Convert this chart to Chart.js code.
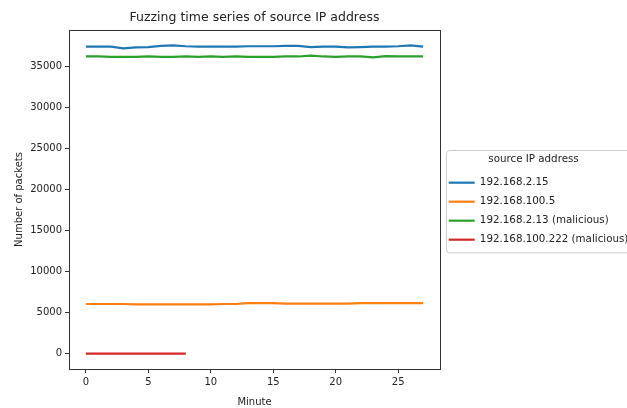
<!DOCTYPE html>
<html>
<head>
<meta charset="utf-8">
<script src="https://cdn.jsdelivr.net/npm/chart.js@4/dist/chart.umd.min.js"></script>
<style>
  html, body { margin: 0; padding: 0; background: #fff; overflow: hidden; }
  #wrap { width: 627px; height: 408px; position: relative; }
</style>
</head>
<body>
<div id="wrap"><canvas id="myChart"></canvas></div>
<script>
// data
const minutes = [0, 1, 2, 3, 4, 5, 6, 7, 8, 9, 10, 11, 12, 13, 14, 15, 16, 17, 18, 19, 20, 21, 22, 23, 24, 25, 26, 27];
const ipLabels = ['192.168.2.15', '192.168.100.5', '192.168.2.13 (malicious)', '192.168.100.222 (malicious)'];
const ip_2_15 = [37450, 37450, 37450, 37250, 37350, 37400, 37550, 37600, 37500, 37450, 37450, 37450, 37450, 37500,
                 37500, 37500, 37550, 37550, 37400, 37450, 37450, 37350, 37400, 37450, 37450, 37500, 37600, 37450];
const ip_100_5 = [6050, 6050, 6050, 6050, 6000, 6000, 6000, 6000, 6000, 6000, 6000, 6050, 6050, 6150,
                  6150, 6150, 6100, 6100, 6100, 6100, 6100, 6100, 6150, 6150, 6150, 6150, 6150, 6150];
const ip_2_13 = [36250, 36250, 36200, 36200, 36200, 36250, 36200, 36200, 36250, 36200, 36250, 36200, 36250, 36200,
                 36200, 36200, 36250, 36250, 36350, 36250, 36200, 36250, 36250, 36150, 36300, 36250, 36250, 36250];
const ip_100_222 = [0, 0, 0, 0, 0, 0, 0, 0, 0];
const xTicks = [0, 5, 10, 15, 20, 25];
const yTicks = [0, 5000, 10000, 15000, 20000, 25000, 30000, 35000];

const colors = ['#1f77b4', '#ff7f0e', '#2ca02c', '#d62728'];
const seriesList = [ip_2_15, ip_100_5, ip_2_13, ip_100_222];

function toPoints(vals) {
  return vals.map((v, i) => ({ x: minutes[i], y: v }));
}

const textColor = '#222';
const axisColor = '#333';

// frame around the plot and the legend, like matplotlib
const framePlugin = {
  id: 'frames',
  afterDraw(chart) {
    const ctx = chart.ctx;
    const a = chart.chartArea;
    ctx.save();
    ctx.strokeStyle = axisColor;
    ctx.lineWidth = 1;
    ctx.strokeRect(Math.round(a.left) + 0.5, Math.round(a.top) + 0.5,
      Math.round(a.right - a.left), Math.round(a.bottom - a.top));

    const lg = chart.legend;
    if (lg && lg.legendHitBoxes && lg.legendHitBoxes.length) {
      const hb = lg.legendHitBoxes;
      const l = hb[0].left - 3;
      const t = hb[0].top - 28;
      const b = hb[hb.length - 1].top + hb[hb.length - 1].height + 7;
      const r = chart.width + 10;
      ctx.strokeStyle = '#cccccc';
      ctx.beginPath();
      ctx.roundRect(Math.round(l) + 0.5, Math.round(t) + 0.5, r - l, b - t, 3);
      ctx.stroke();
    }
    ctx.restore();
  }
};

new Chart(document.getElementById('myChart'), {
  type: 'line',
  data: {
    datasets: seriesList.map((vals, i) => ({
      label: ipLabels[i],
      data: toPoints(vals),
      borderColor: colors[i],
      backgroundColor: colors[i],
      borderWidth: 2.2,
      pointRadius: 0,
      pointStyle: 'line',
      tension: 0
    }))
  },
  options: {
    responsive: true,
    maintainAspectRatio: false,
    animation: false,
    layout: { padding: { left: 9, right: 0, top: 0, bottom: 0 } },
    plugins: {
      title: {
        display: true,
        text: 'Fuzzing time series of source IP address',
        fullSize: false,
        color: textColor,
        font: { family: 'DejaVu Sans', size: 12.5, weight: 'normal' },
        padding: { top: 10, bottom: 5 }
      },
      legend: {
        position: 'right',
        align: 'center',
        maxWidth: 187,
        title: {
          display: true,
          text: 'source IP address',
          color: textColor,
          font: { family: 'DejaVu Sans', size: 10.3 },
          padding: { top: 0, bottom: 2 }
        },
        labels: {
          usePointStyle: true,
          pointStyleWidth: 26,
          padding: 8.7,
          color: textColor,
          font: { family: 'DejaVu Sans', size: 10.3 }
        }
      },
      tooltip: { enabled: false }
    },
    scales: {
      x: {
        type: 'linear',
        min: -1.35,
        max: 28.35,
        afterBuildTicks(scale) { scale.ticks = xTicks.map(v => ({ value: v })); },
        afterFit(scale) { scale.height = 39; },
        grid: { drawOnChartArea: false, drawTicks: true, tickLength: 4, color: axisColor },
        border: { display: true, color: axisColor },
        ticks: { color: textColor, padding: 3, font: { family: 'DejaVu Sans', size: 10 }, maxRotation: 0,
                 callback: v => String(v) },
        title: {
          display: true,
          text: 'Minute',
          color: textColor,
          font: { family: 'DejaVu Sans', size: 10 },
          padding: { top: 9, bottom: 0 }
        }
      },
      y: {
        min: -1880,
        max: 39480,
        afterBuildTicks(scale) { scale.ticks = yTicks.map(v => ({ value: v })); },
        afterFit(scale) { scale.width = 60; },
        grid: { drawOnChartArea: false, drawTicks: true, tickLength: 4, color: axisColor },
        border: { display: true, color: axisColor },
        ticks: { color: textColor, padding: 3, font: { family: 'DejaVu Sans', size: 10 },
                 callback: v => String(v) },
        title: {
          display: true,
          text: 'Number of packets',
          color: textColor,
          font: { family: 'DejaVu Sans', size: 10 },
          padding: { top: 4, bottom: 4 }
        }
      }
    }
  },
  plugins: [framePlugin]
});
</script>
</body>
</html>
